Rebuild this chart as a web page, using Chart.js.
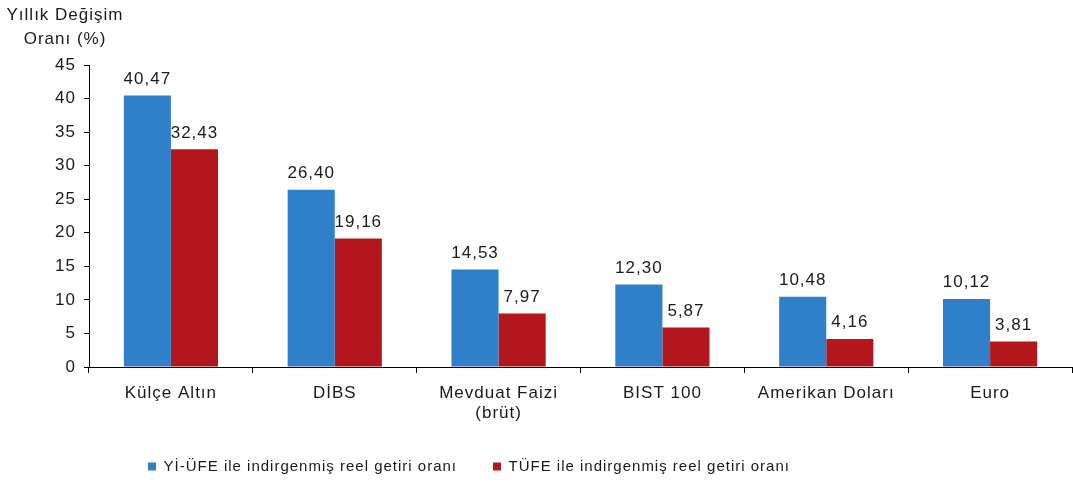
<!DOCTYPE html>
<html>
<head>
<meta charset="utf-8">
<script src="https://cdn.jsdelivr.net/npm/chart.js@4/dist/chart.umd.min.js"></script>
<style>
  html, body { margin: 0; padding: 0; background: #fff; }
  #wrap { width: 1073px; height: 500px; position: relative; }
</style>
</head>
<body>
<div id="wrap"><canvas id="reelChart"></canvas></div>
<script>
// veriler
const categories = ['Külçe Altın', 'DİBS', ['Mevduat Faizi', '(brüt)'], 'BIST 100', 'Amerikan Doları', 'Euro'];
const yiUfeValues = [40.47, 26.40, 14.53, 12.30, 10.48, 10.12];
const tufeValues = [32.43, 19.16, 7.97, 5.87, 4.16, 3.81];
const seriesLabels = ['Yİ-ÜFE ile indirgenmiş reel getiri oranı', 'TÜFE ile indirgenmiş reel getiri oranı'];
const axisTitle = ['Yıllık Değişim', 'Oranı (%)'];

const FONT = '"Liberation Sans", Arial, sans-serif';
const TEXT = '#1a1a1a';

// yazılar referansta biraz açık aralıklı
const spacing = {
    id: 'spacing',
    beforeUpdate(chart) { chart.ctx.letterSpacing = '1px'; },
    beforeLayout(chart) { chart.ctx.letterSpacing = '1px'; },
    beforeDraw(chart) { chart.ctx.letterSpacing = '1px'; }
};

// bar üstü değer etiketleri
const valueLabels = {
    id: 'valueLabels',
    afterDatasetsDraw(chart) {
        const ctx = chart.ctx;
        ctx.save();
        ctx.font = '17px ' + FONT;
        ctx.fillStyle = TEXT;
        ctx.textAlign = 'center';
        ctx.textBaseline = 'bottom';
        chart.data.datasets.forEach((ds, i) => {
            chart.getDatasetMeta(i).data.forEach((bar, j) => {
                const txt = ds.data[j].toFixed(2).replace('.', ',');
                ctx.fillText(txt, bar.x, bar.y - 8);
            });
        });
        ctx.restore();
    }
};

// sol üstteki eksen başlığı
const cornerTitle = {
    id: 'cornerTitle',
    afterDraw(chart) {
        const ctx = chart.ctx;
        ctx.save();
        ctx.font = '17px ' + FONT;
        ctx.fillStyle = TEXT;
        ctx.textAlign = 'center';
        ctx.textBaseline = 'middle';
        ctx.fillText(axisTitle[0], 65, 15);
        ctx.fillText(axisTitle[1], 65, 39);
        ctx.restore();
    }
};

// legend'i biraz sola kaydır
const legendShift = {
    id: 'legendShift',
    afterLayout(chart) {
        if (chart.legend) chart.legend.right -= 134;
    }
};

new Chart(document.getElementById('reelChart'), {
    type: 'bar',
    data: {
        labels: categories,
        datasets: [
            {
                label: seriesLabels[0],
                data: yiUfeValues,
                backgroundColor: '#2f7fc9',
                barPercentage: 1,
                categoryPercentage: 0.575
            },
            {
                label: seriesLabels[1],
                data: tufeValues,
                backgroundColor: '#b3161c',
                barPercentage: 1,
                categoryPercentage: 0.575
            }
        ]
    },
    plugins: [spacing, valueLabels, cornerTitle, legendShift],
    options: {
        responsive: true,
        maintainAspectRatio: false,
        animation: false,
        layout: { padding: { top: 65, left: 0, right: 1, bottom: 16 } },
        plugins: {
            legend: {
                position: 'bottom',
                labels: {
                    boxWidth: 8,
                    boxHeight: 8,
                    padding: 36,
                    color: TEXT,
                    font: { family: FONT, size: 15 }
                }
            },
            tooltip: { enabled: false }
        },
        scales: {
            x: {
                grid: {
                    offset: true,
                    drawOnChartArea: false,
                    tickLength: 6,
                    color: '#000'
                },
                border: { color: '#000', width: 1 },
                ticks: {
                    color: TEXT,
                    padding: 10,
                    maxRotation: 0,
                    font: { family: FONT, size: 17 }
                },
                afterFit(scale) { scale.height = 56; }
            },
            y: {
                min: 0,
                max: 45,
                ticks: {
                    stepSize: 5,
                    color: TEXT,
                    padding: 8,
                    font: { family: FONT, size: 17 }
                },
                grid: {
                    drawOnChartArea: false,
                    tickLength: 5,
                    color: '#000'
                },
                border: { color: '#000', width: 1 },
                afterFit(scale) { scale.width = 89; }
            }
        }
    }
});
</script>
</body>
</html>
